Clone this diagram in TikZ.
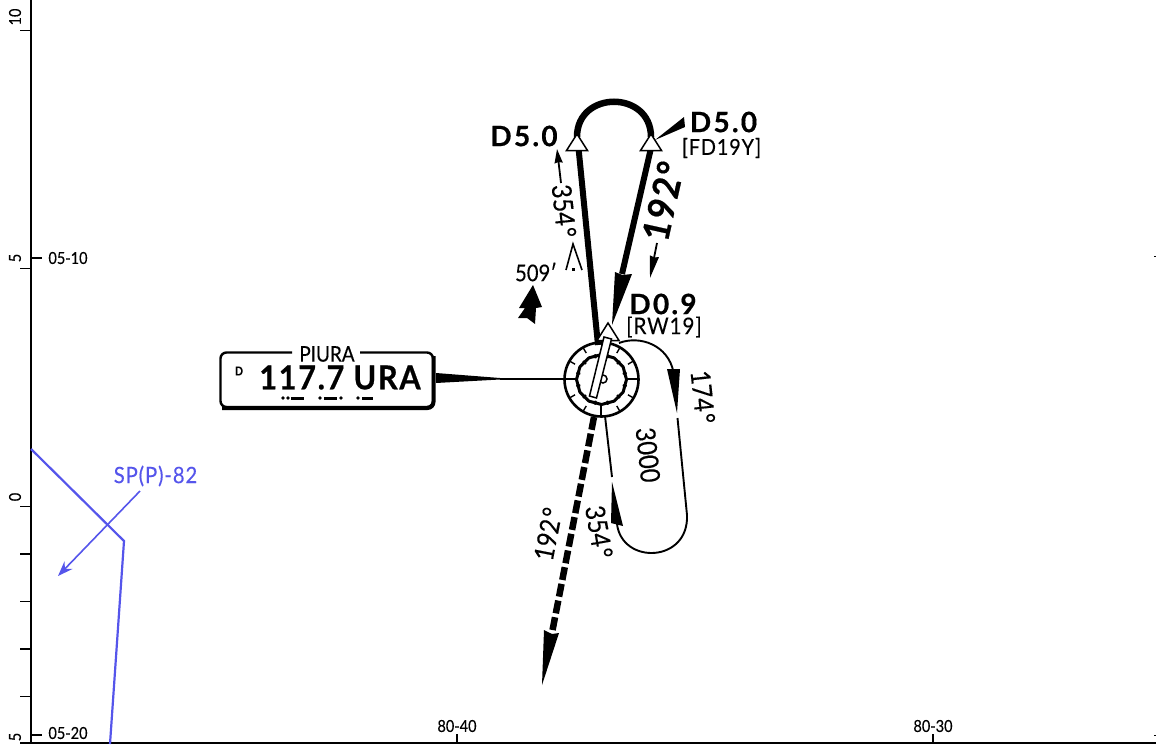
\documentclass[tikz,border=0pt]{standalone}
\usepackage{fontspec}
\setmainfont[FakeStretch=0.88,FakeBold=0.25]{Lato}
\newfontfamily\spaced[LetterSpace=8,FakeBold=0.5]{Lato}
\newfontfamily\wide[LetterSpace=4,FakeStretch=0.9,FakeBold=0.25]{Lato}
\newfontfamily\widebold[LetterSpace=5,FakeStretch=0.93,FakeBold=0.5]{Lato Bold}
\newcommand{\fsz}[1]{\fontsize{#1}{#1}\selectfont}
\usetikzlibrary{arrows.meta}
\definecolor{airblue}{RGB}{85,85,235}
\tikzset{
  lbl/.style={inner sep=0pt,font=\fsz{16.5}},
  fixname/.style={inner sep=0pt,font=\fsz{28}\spaced\bfseries},
  fixsub/.style={inner sep=0pt,font=\fsz{22}\wide},
  crsfont/.style={inner sep=0pt,font=\fsz{27}},
  axisline/.style={line width=1.6pt,black},
  thicktrack/.style={line width=6pt,black},
  thintrack/.style={line width=1.9pt,black},
  fixtri/.style={draw=black,fill=white,line width=1.5pt,line join=miter},
  blk/.style={fill=black,draw=none},
}
\begin{document}
\begin{tikzpicture}[x=1pt,y=-1pt]
\useasboundingbox (0,0) rectangle (1156,744);
% axes
\draw[axisline] (31,0) -- (31,743) -- (1156,743);
\foreach \y in {30.5,268.5,506.5,554,601.5,649,696.7,743}
  \draw[line width=1.5pt] (20,\y) -- (31,\y);
\foreach \y in {258,735} \draw[line width=1.5pt] (31,\y) -- (42,\y);
\foreach \x in {457,933} \draw[line width=1.2pt] (\x,734) -- (\x,743);
\foreach \y in {256,735} \draw[line width=1pt] (1154,\y) -- (1156,\y);
\node[lbl,rotate=90] (t10) at (15,17) {10};
\node[lbl,rotate=90] (t5a) at (15,258) {5};
\node[lbl,rotate=90] (t0) at (15,497) {0};
\node[lbl,rotate=90] (t5b) at (15,737) {5};
\node[lbl] (lat1) at (68,258) {05-10};
\node[lbl] (lat2) at (68,733) {05-20};
\node[lbl] (lon1) at (457,726) {80-40};
\node[lbl] (lon2) at (933,726) {80-30};
% blue airspace
\draw[airblue,line width=2.2pt,line join=miter] (31,449) -- (124,541) -- (110,744);
\node[inner sep=0pt,text=airblue,font=\fsz{22.5}\wide] (sp) at (155.5,476) {SP(P)-82};
\coordinate (spend) at (58,576);
\coordinate (spstart) at (140,491);
\draw[airblue,line width=1.6pt,-{Stealth[length=15pt,width=11pt,inset=5pt]}] (spstart) -- (spend);
% procedure turn
\coordinate (fixL) at (577,143);
\coordinate (fixR) at (651,143);
\draw[line width=6.5pt] (577,137) .. controls (577,90) and (651,90) .. (651,137);
\draw[thicktrack] (578.5,148) -- (598,345);
\draw[thicktrack] (651,148) -- (622,274);
\fill[blk] (612,325) -- (615,272) -- (622.5,275) -- (632,274) -- cycle;
\draw[fixtri] (577,134) -- (587.5,150.5) -- (566.5,150.5) -- cycle;
\draw[fixtri] (651,134) -- (661.5,150.5) -- (640.5,150.5) -- cycle;
\fill[blk] (655,140) -- (684,117) -- (685,127) -- cycle;
% small bearing arrows
\coordinate (a1s) at (561,183); \coordinate (a1e) at (557,149);
\draw[line width=1.8pt,-{Stealth[length=14pt,width=8pt,inset=1pt]}] (a1s) -- (a1e);
\coordinate (a2s) at (657,243); \coordinate (a2e) at (650,278);
\draw[line width=1.8pt,-{Stealth[length=22pt,width=9pt,inset=1pt]}] (a2s) -- (a2e);
% fix labels
\node[fixname] (d5l) at (524,136) {D5.0};
\node[fixname] (d5r) at (723.5,122) {D5.0};
\node[fixsub] (fd) at (721.5,148) {[FD19Y]};
\node[fixname] (d09) at (663,304) {D0.9};
\node[fixsub,font=\fsz{23}\wide] (rw) at (664,327) {[RW19]};
\node[crsfont,rotate=-84] (c354a) at (564,211) {354\kern2pt°};
\node[inner sep=0pt,rotate=77.5,font=\fsz{37}\widebold] (c192a) at (663,201) {192°};
\node[inner sep=0pt,font=\fsz{23}] (elev) at (536,272) {509′};
% obstacle
\draw[line width=1.6pt] (566,270) -- (573,244) -- (582,270);
\fill[blk] (571.5,267.5) rectangle (575,271);
% arrow symbol
\fill[blk] (533,285) -- (542,307) -- (536,308) -- (535,324) -- (527,318) -- (518,318) -- (525,308) -- (519,308) -- cycle;
% navaid box
\draw[line width=2.4pt,rounded corners=6pt] (292,352.5) -- (220.5,352.5) -- (220.5,407) -- (433,407) -- (433,352.5) -- (360,352.5);
\draw[line width=4pt,rounded corners=6pt] (222,408) -- (433.5,408) -- (433.5,356);
\node[inner sep=0pt,font=\fsz{21.5}] (piura) at (327,354) {PIURA};
\node[inner sep=0pt,font=\fsz{12}\bfseries] (dd) at (239,371) {D};
\node[inner sep=0pt,font=\fsz{33}\widebold] (freq) at (340,377.5) {117.7 URA};
\foreach \x in {283,288,320,341,358} \fill (\x,398) circle (1.9);
\foreach \a/\b in {291/304,324/337,362/373} \fill (\a,396.5) rectangle (\b,399.5);
\fill[blk] (436,373) -- (500,378) -- (500,379.5) -- (436,383) -- cycle;
% VOR
\coordinate (vor) at (601.5,379.5);
\draw[line width=1.4pt] (500,379) -- (577,379);
\draw[line width=1.4pt] (626,379) -- (639,379);
\draw[line width=1.4pt] (601,405) -- (601,417);
\draw[line width=1.4pt] (601.5,342) -- (601.5,355);
\draw[line width=2.6pt] (vor) circle (37);
\begin{scope}[shift={(vor)}]
  \foreach \a in {30,60,120,150,210,240,300,330}
    \draw[line width=1.4pt] (\a:37) -- (\a:30.5);
  \draw[line width=3pt,line join=round] (0:25)
    \foreach \a in {30,60,...,330} { -- (\a:25) } -- cycle;
  \foreach \a in {15,45,...,345}
    \draw[line width=2pt] (\a:22) -- (\a:26);
\end{scope}
\draw[line width=1.5pt] (603,379) circle (4);
\draw[fixtri] (608,323) -- (619,340.5) -- (597,340.5) -- cycle;
\draw[draw=black,fill=white,line width=1.5pt] (604,337) -- (611.5,339) -- (596.5,398) -- (589.5,396) -- cycle;
% holding pattern
\coordinate (hs) at (619,343);
\draw[thintrack] (hs) .. controls (640,335) and (668,345) .. (673.5,372);
\fill[blk] (667,369) -- (680,369) -- (677,413) -- cycle;
\draw[thintrack] (677.5,418) -- (687,515) .. controls (689,563) and (622,565) .. (617,524);
\fill[blk] (611,523) -- (623,526) -- (612,482) -- cycle;
\draw[thintrack] (612,477) -- (605,416);
% dashed outbound
\draw[line width=6.5pt,dash pattern=on 13pt off 4pt] (594,417) -- (551,638);
\fill[blk] (542,685) -- (544,630) -- (552,634) -- (559,633) -- cycle;
% labels
\node[crsfont,rotate=-84] (alt) at (648,455) {3000};
\node[crsfont,rotate=-84] (c174) at (703,397) {174\kern2pt°};
\node[crsfont,rotate=-80] (c354b) at (599,532) {354\kern2pt°};
\node[crsfont,rotate=79] (c192b) at (548,534) {192\kern2pt°};
\end{tikzpicture}
\end{document}
